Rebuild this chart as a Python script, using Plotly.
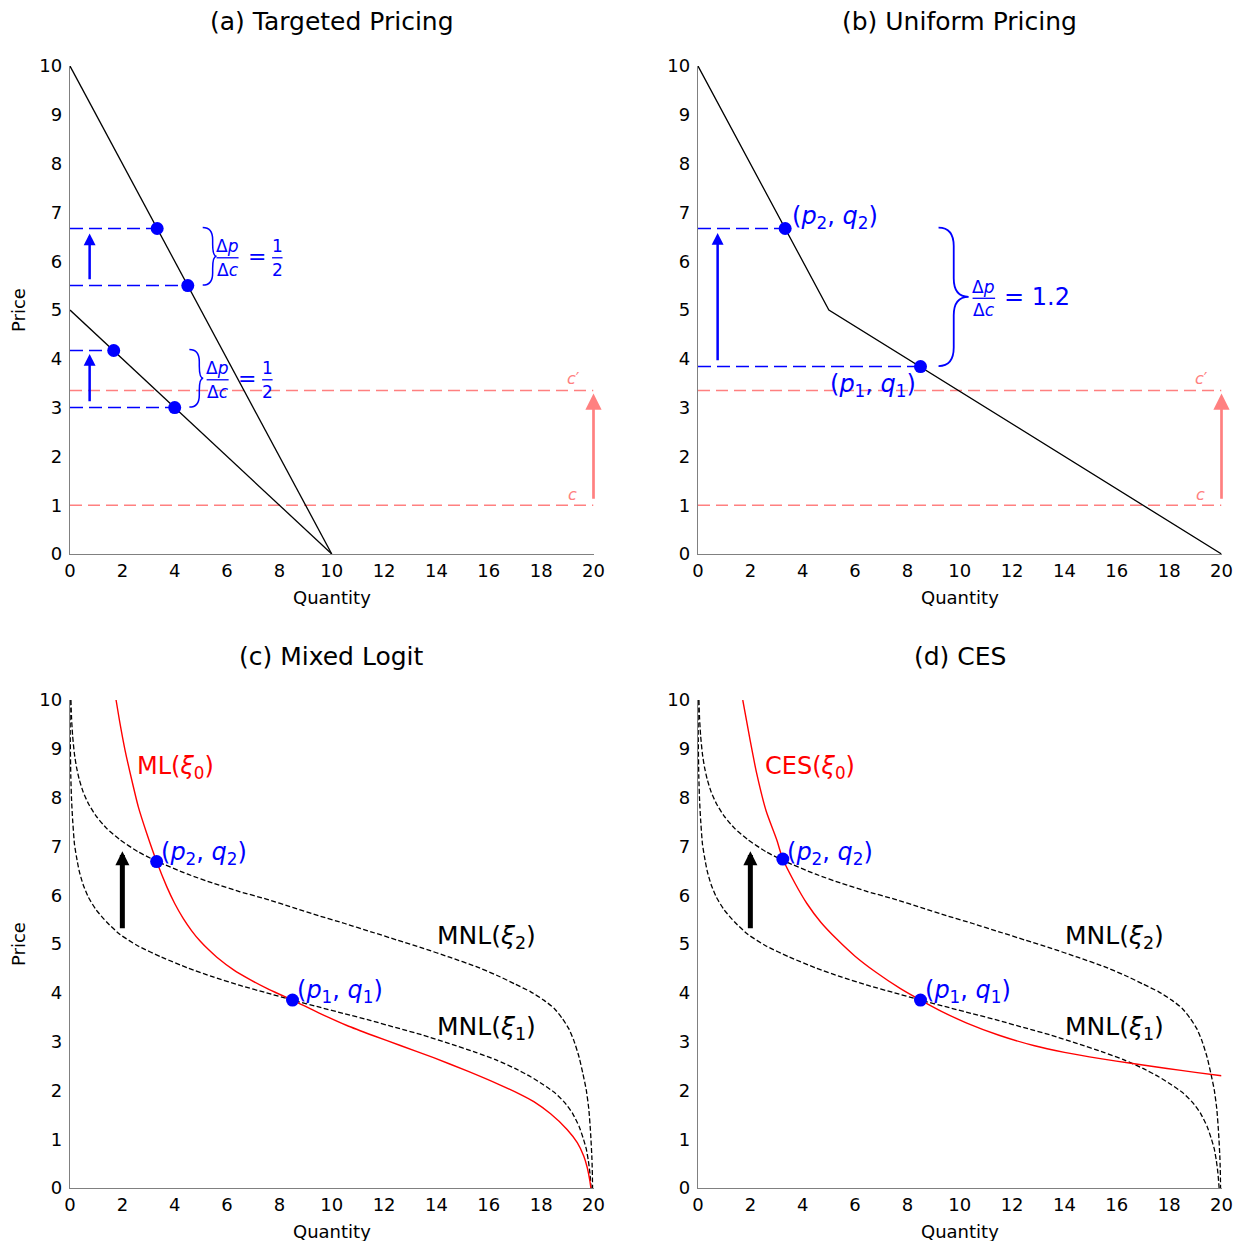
import plotly.graph_objects as go

# ---------------- data ----------------
# (a) Targeted pricing: two linear demand curves
A_HIGH_Q = [0, 10]
A_HIGH_P = [10, 0]
A_LOW_Q = [0, 10]
A_LOW_P = [5, 0]
A_HIGH_EQ_Q = [4.5, 3.33]    # at c, at c'
A_HIGH_EQ_P = [5.5, 6.67]
A_LOW_EQ_Q = [4.0, 1.67]
A_LOW_EQ_P = [3.0, 4.17]

# (b) Uniform pricing: kinked aggregate demand
B_KINK_Q = [0, 5, 20]
B_KINK_P = [10, 5, 0]
B_EQ_Q = [8.5, 3.33]
B_EQ_P = [3.84, 6.67]

COSTS = [1.0, 3.35]          # c, c'
RATIO_A = ["1", "2"]
RATIO_B = "1.2"

# (c)/(d) MNL demand curves
MNL1_Q = [0.003, 0.01, 0.03, 0.06, 0.1, 0.17, 0.25, 0.35, 0.5, 0.7, 1.0, 1.4, 1.9, 2.6, 3.5,
          4.5, 5.5, 6.5, 7.5, 8.5, 9.5, 10.5, 11.5, 12.5, 13.5, 14.5, 15.5, 16.3, 17.0, 17.6,
          18.1, 18.5, 18.9, 19.2, 19.45, 19.6, 19.72, 19.8, 19.86, 19.91]
MNL1_P = [10.0, 9.2, 8.45, 7.95, 7.55, 7.05, 6.78, 6.5, 6.22, 5.96, 5.7, 5.45, 5.2, 4.96, 4.73,
          4.51, 4.32, 4.15, 4.0, 3.85, 3.71, 3.57, 3.43, 3.28, 3.13, 2.96, 2.78, 2.62, 2.45, 2.28,
          2.11, 1.96, 1.75, 1.53, 1.26, 1.03, 0.81, 0.57, 0.32, 0.0]
MNL2_Q = [0.035, 0.06, 0.1, 0.17, 0.25, 0.35, 0.5, 0.7, 1.0, 1.4, 1.9, 2.6, 3.3, 4.5, 5.5,
          6.5, 7.5, 8.5, 9.5, 10.5, 11.5, 12.5, 13.5, 14.5, 15.5, 16.3, 17.0, 17.6, 18.1, 18.5,
          18.8, 19.05, 19.25, 19.45, 19.6, 19.72, 19.82, 19.89, 19.94, 19.97]
MNL2_P = [10.0, 9.62, 9.27, 8.89, 8.62, 8.38, 8.12, 7.88, 7.62, 7.37, 7.14, 6.89, 6.7, 6.43, 6.24,
          6.07, 5.92, 5.75, 5.58, 5.42, 5.25, 5.08, 4.91, 4.73, 4.54, 4.36, 4.18, 4.02, 3.85, 3.68,
          3.48, 3.27, 3.02, 2.68, 2.33, 2.02, 1.62, 1.12, 0.6, 0.0]
# (c) mixed logit aggregate demand
ML_Q = [1.76, 1.91, 2.10, 2.36, 2.61, 2.93, 3.31, 3.70, 4.0, 4.33, 4.65, 4.97, 5.3, 5.61, 6.25,
        6.88, 7.52, 8.0, 8.5, 9.5, 10.58, 11.6, 12.62, 13.89, 15.17, 16.44, 17.2, 17.72, 18.36,
        18.99, 19.38, 19.63, 19.76, 19.86, 19.9]
ML_P = [10.0, 9.52, 8.98, 8.36, 7.81, 7.27, 6.69, 6.17, 5.83, 5.52, 5.27, 5.06, 4.88, 4.73, 4.47,
        4.27, 4.09, 3.97, 3.85, 3.59, 3.33, 3.12, 2.92, 2.67, 2.40, 2.11, 1.92, 1.77, 1.52,
        1.20, 0.93, 0.65, 0.42, 0.15, 0.0]
# (d) CES demand
CES_Q = [1.71, 2.0, 2.24, 2.6, 3.01, 3.24, 3.7, 4.16, 4.7, 5.3, 6.0, 6.8, 7.72, 8.5, 9.3, 10.27,
         11.5, 12.82, 14.0, 15.37, 16.6, 17.92, 19.0, 20.0]
CES_P = [10.0, 9.15, 8.50, 7.73, 7.13, 6.74, 6.25, 5.83, 5.44, 5.10, 4.75, 4.42, 4.09, 3.85, 3.62,
         3.38, 3.13, 2.92, 2.78, 2.65, 2.55, 2.45, 2.37, 2.30]
C_EQ_Q = [8.5, 3.31]
C_EQ_P = [3.85, 6.69]
D_EQ_Q = [8.5, 3.24]
D_EQ_P = [3.85, 6.74]

X_TICKS = list(range(0, 21, 2))
Y_TICKS = list(range(0, 11))

# ---------------- styling ----------------
OFF = 8                      # page body margin of the html page
W, H = 1242 - OFF, 1241 - OFF
FONT = "DejaVu Sans"
BLUE = "#0000ff"
PINK = "#ff8080"
RED = "#ff0000"
SPINE = "#808080"


def px_x(v):
    return (v - OFF) / W


def px_y(v):
    return 1 - (v - OFF) / H


X_DOMS = [[px_x(70), px_x(593.5)], [px_x(698), px_x(1221.5)]]
Y_DOMS = [[px_y(554), px_y(66)], [px_y(1188), px_y(700)]]

fig = go.Figure()
layout = dict(width=W, height=H, margin=dict(l=0, r=0, t=0, b=0, autoexpand=False),
              paper_bgcolor="white", plot_bgcolor="white", showlegend=False,
              font=dict(family=FONT, size=18, color="black"))
panel_refs = []
for i in range(4):
    row, col = divmod(i, 2)
    n = "" if i == 0 else str(i + 1)
    common = dict(showgrid=False, zeroline=False, showline=True, linecolor=SPINE,
                  linewidth=1.3, ticks="", automargin=False, fixedrange=True,
                  tickfont=dict(size=18, family=FONT, color="black"))
    layout["xaxis" + n] = dict(domain=X_DOMS[col], range=[0, 20], tickvals=X_TICKS,
                               anchor="y" + n, **common)
    layout["yaxis" + n] = dict(domain=Y_DOMS[row], range=[0, 10], tickvals=Y_TICKS,
                               anchor="x" + n, ticklabelstandoff=3, **common)
    panel_refs.append(("x" + n, "y" + n))
fig.update_layout(**layout)

annotations = []
shapes = []


def line(ref, xs, ys, color, width, dash="solid", shape="linear"):
    fig.add_trace(go.Scatter(x=xs, y=ys, mode="lines", xaxis=ref[0], yaxis=ref[1],
                             line=dict(color=color, width=width, dash=dash, shape=shape,
                                       smoothing=0.6),
                             hoverinfo="skip", cliponaxis=True))


def dots(ref, xs, ys):
    fig.add_trace(go.Scatter(x=xs, y=ys, mode="markers", xaxis=ref[0], yaxis=ref[1],
                             marker=dict(color=BLUE, size=13), hoverinfo="skip",
                             cliponaxis=False))


def arrow(ref, x, y_tail, y_head, color, width, size):
    annotations.append(dict(x=x, y=y_head, ax=x, ay=y_tail, xref=ref[0], yref=ref[1],
                            axref=ref[0], ayref=ref[1], text="", showarrow=True,
                            arrowhead=2, arrowsize=size, arrowwidth=width,
                            arrowcolor=color, standoff=0, startstandoff=0))


def text(ref, x, y, s, size, color, xanchor="center", yanchor="middle"):
    annotations.append(dict(x=x, y=y, xref=ref[0], yref=ref[1], text=s, showarrow=False,
                            xanchor=xanchor, yanchor=yanchor,
                            font=dict(family=FONT, size=size, color=color)))


def brace(ref, x0, xv, xt, yb, yt, r, width):
    ym = (yb + yt) / 2
    path = (f"M{x0},{yt} Q{xv},{yt} {xv},{yt - r} L{xv},{ym + r} Q{xv},{ym} {xt},{ym} "
            f"Q{xv},{ym} {xv},{ym - r} L{xv},{yb + r} Q{xv},{yb} {x0},{yb}")
    shapes.append(dict(type="path", path=path, xref=ref[0], yref=ref[1],
                       line=dict(color=BLUE, width=width)))


def hbar(ref, x0, x1, y):
    shapes.append(dict(type="line", x0=x0, x1=x1, y0=y, y1=y, xref=ref[0], yref=ref[1],
                       line=dict(color=BLUE, width=1.3)))


def frac(ref, xc, yb, num, den, size, half):
    text(ref, xc, yb + 0.24, num, size, BLUE)
    text(ref, xc, yb - 0.25, den, size, BLUE)
    hbar(ref, xc - half, xc + half, yb)


def cost_lines(ref):
    for c in COSTS:
        line(ref, [0, 20], [c, c], PINK, 1.5, "12px,6px")
    text(ref, 19.2, COSTS[0] + 0.22, "<i>c</i>", 16, PINK)
    text(ref, 19.25, COSTS[1] + 0.24, "<i>c</i>′", 16, PINK)
    arrow(ref, 20, COSTS[0] + 0.1, COSTS[1] - 0.06, PINK, 2.7, 1.2)


DP, DC = "Δ<i>p</i>", "Δ<i>c</i>"

# ---------------- panel (a) ----------------
ra = panel_refs[0]
cost_lines(ra)
for qs, ps in [(A_HIGH_EQ_Q, A_HIGH_EQ_P), (A_LOW_EQ_Q, A_LOW_EQ_P)]:
    for q, p in zip(qs, ps):
        line(ra, [0, q], [p, p], BLUE, 1.5, "13px,6px")
line(ra, A_HIGH_Q, A_HIGH_P, "black", 1.3)
line(ra, A_LOW_Q, A_LOW_P, "black", 1.3)
dots(ra, A_HIGH_EQ_Q + A_LOW_EQ_Q, A_HIGH_EQ_P + A_LOW_EQ_P)
arrow(ra, 0.75, A_HIGH_EQ_P[0] + 0.1, A_HIGH_EQ_P[1] - 0.1, BLUE, 2.5, 0.95)
arrow(ra, 0.75, A_LOW_EQ_P[0] + 0.1, A_LOW_EQ_P[1] - 0.07, BLUE, 2.5, 0.95)
for ps, x0, fx in [(A_HIGH_EQ_P, 5.07, 6.02), (A_LOW_EQ_P, 4.56, 5.64)]:
    yb, yt = ps[0] + 0.01, ps[1] + 0.02
    brace(ra, x0, x0 + 0.38, x0 + 0.53, yb, yt, 0.25, 1.5)
    ym = (yb + yt) / 2 - 0.03
    frac(ra, fx, ym, DP, DC, 17, 0.42)
    text(ra, fx + 1.13, ym + 0.02, "=", 22, BLUE)
    frac(ra, fx + 1.9, ym, RATIO_A[0], RATIO_A[1], 17, 0.2)

# ---------------- panel (b) ----------------
rb = panel_refs[1]
cost_lines(rb)
for q, p in zip(B_EQ_Q, B_EQ_P):
    line(rb, [0, q], [p, p], BLUE, 1.5, "13px,6px")
line(rb, B_KINK_Q, B_KINK_P, "black", 1.3)
dots(rb, B_EQ_Q, B_EQ_P)
arrow(rb, 0.75, B_EQ_P[0] + 0.1, B_EQ_P[1] - 0.09, BLUE, 2.5, 0.95)
brace(rb, 9.19, 9.77, 10.34, B_EQ_P[0] + 0.01, B_EQ_P[1] + 0.02, 0.38, 1.8)
frac(rb, 10.92, 5.24, DP, DC, 17, 0.43)
text(rb, 11.62, 5.27, "= " + RATIO_B, 24, BLUE, xanchor="left")
text(rb, B_EQ_Q[1] + 0.2, B_EQ_P[1] + 0.22, "(<i>p</i><sub>2</sub>, <i>q</i><sub>2</sub>)",
     24, BLUE, xanchor="left")
text(rb, B_EQ_Q[0] - 0.1, B_EQ_P[0] - 0.38, "(<i>p</i><sub>1</sub>, <i>q</i><sub>1</sub>)",
     24, BLUE, xanchor="right")

# ---------------- panels (c), (d) ----------------
for ref, rq, rp, lab, eq_q, eq_p in [
        (panel_refs[2], ML_Q, ML_P, "ML(<i>ξ</i><sub>0</sub>)", C_EQ_Q, C_EQ_P),
        (panel_refs[3], CES_Q, CES_P, "CES(<i>ξ</i><sub>0</sub>)", D_EQ_Q, D_EQ_P)]:
    line(ref, MNL1_Q, MNL1_P, "black", 1.3, "5px,2.4px", "spline")
    line(ref, MNL2_Q, MNL2_P, "black", 1.3, "5px,2.4px", "spline")
    line(ref, rq, rp, RED, 1.4, "solid", "spline")
    dots(ref, eq_q, eq_p)
    arrow(ref, 2.0, 5.29, 6.9, "black", 5, 0.56)
    text(ref, 2.5, 8.62, lab, 24, RED, xanchor="left")
    text(ref, eq_q[1] + 0.08, 6.85, "(<i>p</i><sub>2</sub>, <i>q</i><sub>2</sub>)", 24, BLUE,
         xanchor="left")
    text(ref, eq_q[0] + 0.1, 4.02, "(<i>p</i><sub>1</sub>, <i>q</i><sub>1</sub>)", 24, BLUE,
         xanchor="left")
    text(ref, 13.95, 5.14, "MNL(<i>ξ</i><sub>2</sub>)", 25, "black", xanchor="left")
    text(ref, 13.95, 3.27, "MNL(<i>ξ</i><sub>1</sub>)", 25, "black", xanchor="left")

# ---------------- titles and axis labels ----------------
TITLES = ["(a) Targeted Pricing", "(b) Uniform Pricing", "(c) Mixed Logit", "(d) CES"]
for i, t in enumerate(TITLES):
    row, col = divmod(i, 2)
    xc = sum(X_DOMS[col]) / 2
    annotations.append(dict(x=xc, y=px_y([22, 657][row]), xref="paper", yref="paper",
                            text=t, showarrow=False, xanchor="center", yanchor="middle",
                            font=dict(family=FONT, size=25, color="black")))
    annotations.append(dict(x=xc, y=px_y([597, 1231][row]), xref="paper", yref="paper",
                            text="Quantity", showarrow=False, xanchor="center",
                            yanchor="middle", font=dict(family=FONT, size=18, color="black")))
    if col == 0:
        annotations.append(dict(x=px_x(18), y=sum(Y_DOMS[row]) / 2, xref="paper",
                                yref="paper", text="Price", showarrow=False, textangle=-90,
                                xanchor="center", yanchor="middle",
                                font=dict(family=FONT, size=18, color="black")))

fig.update_layout(annotations=annotations, shapes=shapes)
fig.write_html("out.html")
